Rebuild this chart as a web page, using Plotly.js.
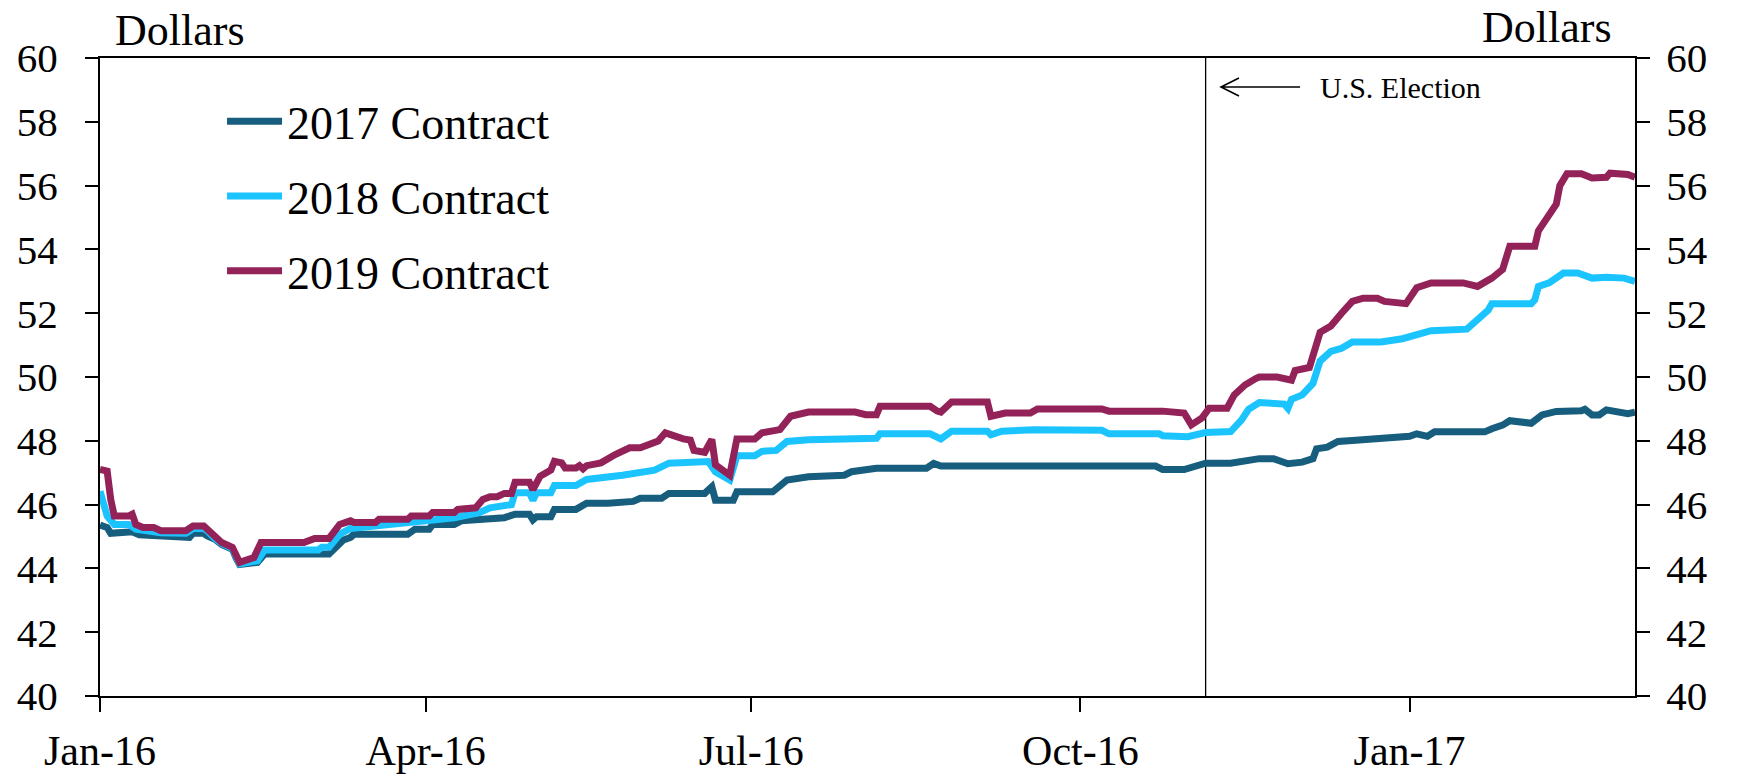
<!DOCTYPE html>
<html>
<head>
<meta charset="utf-8">
<script src="https://cdn.plot.ly/plotly-3.0.1.min.js"></script>
<style>
  html, body { margin: 0; padding: 0; background: #ffffff; }
  #chart { width: 1737px; height: 778px; }
</style>
</head>
<body>
<div id="chart"></div>
<script>
// ---------------- DATA ----------------
const seriesNames = ['2017 Contract', '2018 Contract', '2019 Contract'];

const dates2017 = [
  '2016-01-01','2016-01-03','2016-01-04','2016-01-08','2016-01-10','2016-01-12','2016-01-17','2016-01-18','2016-01-26','2016-01-27',
  '2016-01-30','2016-01-31','2016-02-02','2016-02-04','2016-02-07','2016-02-08','2016-02-09','2016-02-14','2016-02-16','2016-03-05',
  '2016-03-07','2016-03-09','2016-03-11','2016-03-12','2016-03-27','2016-03-29','2016-04-02','2016-04-03','2016-04-09','2016-04-11',
  '2016-04-17','2016-04-23','2016-04-26','2016-04-30','2016-05-01','2016-05-02','2016-05-06','2016-05-07','2016-05-13','2016-05-16',
  '2016-05-22','2016-05-29','2016-05-31','2016-06-06','2016-06-08','2016-06-18','2016-06-20','2016-06-21','2016-06-26','2016-06-27',
  '2016-07-07','2016-07-11','2016-07-17','2016-07-27','2016-07-29','2016-08-05','2016-08-19','2016-08-21','2016-08-23','2016-10-22',
  '2016-10-24','2016-10-30','2016-11-05','2016-11-12','2016-11-20','2016-11-24','2016-11-28','2016-12-02','2016-12-05','2016-12-06',
  '2016-12-09','2016-12-12','2016-12-16','2016-12-27','2017-01-01','2017-01-03','2017-01-06','2017-01-08','2017-01-22','2017-01-24',
  '2017-01-27','2017-01-29','2017-02-04','2017-02-07','2017-02-11','2017-02-18','2017-02-19','2017-02-21','2017-02-23','2017-02-25',
  '2017-03-01','2017-03-03','2017-03-05'
];
const values2017 = [
  45.36,45.28,45.10,45.10,45.15,45.05,45.02,44.97,44.97,45.10,
  45.10,45.02,44.92,44.75,44.60,44.33,44.12,44.19,44.45,44.45,
  44.66,44.89,44.97,45.07,45.07,45.23,45.23,45.38,45.38,45.49,
  45.54,45.59,45.70,45.70,45.52,45.62,45.62,45.85,45.85,46.04,
  46.04,46.10,46.20,46.20,46.35,46.35,46.56,46.14,46.14,46.40,
  46.40,46.77,46.87,46.92,47.03,47.14,47.14,47.29,47.21,47.21,
  47.10,47.10,47.30,47.30,47.44,47.44,47.28,47.33,47.44,47.75,
  47.80,47.98,48.01,48.07,48.14,48.22,48.14,48.28,48.28,48.38,
  48.49,48.63,48.55,48.81,48.92,48.94,48.99,48.81,48.81,48.97,
  48.92,48.85,48.90
];

const dates2018 = [
  '2016-01-01','2016-01-03','2016-01-05','2016-01-09','2016-01-11','2016-01-18','2016-01-25','2016-01-27','2016-01-30','2016-01-31',
  '2016-02-02','2016-02-04','2016-02-07','2016-02-08','2016-02-09','2016-02-14','2016-02-16','2016-03-02','2016-03-03','2016-03-05',
  '2016-03-08','2016-03-11','2016-03-18','2016-03-27','2016-04-03','2016-04-09','2016-04-16','2016-04-19','2016-04-25','2016-04-26',
  '2016-04-30','2016-05-01','2016-05-02','2016-05-06','2016-05-07','2016-05-13','2016-05-16','2016-05-20','2016-05-23','2016-05-26',
  '2016-06-04','2016-06-06','2016-06-08','2016-06-19','2016-06-21','2016-06-25','2016-06-27','2016-07-02','2016-07-04','2016-07-08',
  '2016-07-11','2016-07-17','2016-07-30','2016-08-01','2016-08-05','2016-08-06','2016-08-20','2016-08-23','2016-08-26','2016-09-05',
  '2016-09-06','2016-09-09','2016-09-18','2016-10-07','2016-10-09','2016-10-23','2016-10-24','2016-10-31','2016-11-05','2016-11-12',
  '2016-11-15','2016-11-17','2016-11-20','2016-11-27','2016-11-28','2016-11-29','2016-12-02','2016-12-05','2016-12-07','2016-12-10',
  '2016-12-13','2016-12-16','2016-12-24','2016-12-30','2017-01-03','2017-01-07','2017-01-17','2017-01-20','2017-01-23','2017-01-24',
  '2017-02-04','2017-02-05','2017-02-06','2017-02-09','2017-02-13','2017-02-17','2017-02-21','2017-02-25','2017-03-02','2017-03-05'
];
const values2018 = [
  46.42,45.64,45.38,45.38,45.23,45.12,45.10,45.25,45.25,45.18,
  44.95,44.78,44.62,44.35,44.14,44.24,44.58,44.58,44.66,44.66,
  45.07,45.25,45.33,45.44,45.54,45.59,45.75,45.90,46.00,46.37,
  46.37,46.14,46.37,46.37,46.60,46.60,46.79,46.82,46.87,46.92,
  47.08,47.20,47.30,47.35,47.03,46.77,47.53,47.53,47.67,47.70,
  47.98,48.03,48.03,48.08,48.08,48.22,48.22,48.06,48.30,48.30,
  48.19,48.30,48.35,48.33,48.22,48.22,48.16,48.13,48.26,48.29,
  48.65,48.99,49.20,49.15,49.02,49.30,49.44,49.80,50.50,50.80,
  50.90,51.10,51.10,51.20,51.30,51.45,51.50,51.80,52.10,52.30,
  52.30,52.42,52.84,52.95,53.26,53.26,53.10,53.13,53.10,53.00
];

const dates2019 = [
  '2016-01-01','2016-01-03','2016-01-04','2016-01-05','2016-01-09','2016-01-10','2016-01-11','2016-01-13','2016-01-16','2016-01-18',
  '2016-01-25','2016-01-27','2016-01-30','2016-01-31','2016-02-02','2016-02-04','2016-02-07','2016-02-08','2016-02-09','2016-02-13',
  '2016-02-15','2016-02-27','2016-03-01','2016-03-05','2016-03-08','2016-03-11','2016-03-12','2016-03-18','2016-03-19','2016-03-27',
  '2016-03-28','2016-04-02','2016-04-03','2016-04-09','2016-04-10','2016-04-15','2016-04-17','2016-04-19','2016-04-21','2016-04-23',
  '2016-04-25','2016-04-26','2016-04-30','2016-05-01','2016-05-03','2016-05-06','2016-05-07','2016-05-09','2016-05-10','2016-05-13',
  '2016-05-14','2016-05-15','2016-05-16','2016-05-20',
  '2016-05-22','2016-05-24','2016-05-28','2016-05-31','2016-06-05','2016-06-07','2016-06-12','2016-06-14','2016-06-15','2016-06-18',
  '2016-06-20','2016-06-21','2016-06-25','2016-06-27','2016-07-02','2016-07-04','2016-07-09','2016-07-12','2016-07-17','2016-07-30',
  '2016-08-02','2016-08-05','2016-08-06','2016-08-20','2016-08-22','2016-08-23','2016-08-26','2016-09-05','2016-09-06','2016-09-10',
  '2016-09-17','2016-09-19','2016-10-07','2016-10-09','2016-10-24','2016-10-30','2016-11-01','2016-11-04','2016-11-06','2016-11-11',
  '2016-11-13','2016-11-16','2016-11-19','2016-11-20','2016-11-25','2016-11-29','2016-11-30','2016-12-04','2016-12-07','2016-12-10',
  '2016-12-13','2016-12-16','2016-12-19','2016-12-23','2016-12-25','2016-12-31','2017-01-03','2017-01-07','2017-01-16','2017-01-20',
  '2017-01-24','2017-01-27','2017-01-29','2017-02-05','2017-02-06','2017-02-11','2017-02-12','2017-02-14','2017-02-18','2017-02-21',
  '2017-02-25','2017-02-26','2017-03-03','2017-03-05'
];
const values2019 = [
  47.10,47.05,46.16,45.64,45.64,45.70,45.38,45.28,45.28,45.18,
  45.18,45.33,45.33,45.23,44.97,44.81,44.66,44.39,44.19,44.34,
  44.81,44.81,44.94,44.94,45.38,45.49,45.44,45.44,45.54,45.54,
  45.64,45.64,45.75,45.75,45.85,45.90,46.16,46.25,46.25,46.35,
  46.35,46.70,46.70,46.47,46.89,47.08,47.36,47.31,47.15,47.15,
  47.22,47.12,47.22,47.31,
  47.41,47.57,47.78,47.78,47.99,48.25,48.06,48.02,47.70,47.64,
  48.04,47.25,46.92,48.06,48.06,48.25,48.35,48.77,48.90,48.90,
  48.82,48.82,49.08,49.08,48.93,48.90,49.22,49.22,48.77,48.87,
  48.87,49.00,49.00,48.93,48.93,48.87,48.50,48.72,49.02,49.02,
  49.44,49.75,49.95,50.00,50.00,49.90,50.20,50.30,51.40,51.60,
  52.00,52.37,52.47,52.47,52.37,52.30,52.80,52.95,52.95,52.84,
  53.10,53.37,54.10,54.10,54.58,55.42,56.00,56.37,56.37,56.24,
  56.26,56.39,56.35,56.26
];

const tickDates  = ['2016-01-01','2016-04-01','2016-07-01','2016-10-01','2017-01-01'];
const tickLabels = ['Jan-16','Apr-16','Jul-16','Oct-16','Jan-17'];
const electionDate = '2016-11-05';
const electionLabel = 'U.S. Election';
const unitLabel = 'Dollars';

// ---------------- STYLE ----------------
const FONT = 'Liberation Serif, "Times New Roman", serif';
const colors = ['#175E7E', '#1CC4FF', '#932259'];
const xs = [dates2017, dates2018, dates2019];
const ys = [values2017, values2018, values2019];

const traces = seriesNames.map((name, i) => ({
  type: 'scatter',
  mode: 'lines',
  name: name,
  x: xs[i],
  y: ys[i],
  legendgroup: 'g' + i,
  line: { color: colors[i], width: 7 },
  hoverinfo: 'skip'
}));
// invisible trace to show the right-hand axis
traces.push({
  type: 'scatter', mode: 'lines', x: [tickDates[0]], y: [50],
  yaxis: 'y2', showlegend: false, hoverinfo: 'skip',
  line: { color: 'rgba(0,0,0,0)' }
});

const yFont = { family: FONT, size: 41, color: '#000' };
const xFont = { family: FONT, size: 42, color: '#000' };

const layout = {
  width: 1737,
  height: 778,
  margin: { l: 100, r: 102, t: 58, b: 82, pad: 0 },
  paper_bgcolor: '#ffffff',
  plot_bgcolor: '#ffffff',
  font: { family: FONT, color: '#000' },
  showlegend: true,
  legend: {
    x: 0.0795, y: 0.958, xanchor: 'left', yanchor: 'top',
    bgcolor: 'rgba(0,0,0,0)',
    font: { family: FONT, size: 46, color: '#000' },
    traceorder: 'grouped',
    tracegroupgap: 12,
    itemwidth: 55
  },
  xaxis: {
    type: 'date',
    range: ['2016-01-01', '2017-03-05'],
    tickmode: 'array',
    tickvals: tickDates,
    ticktext: tickLabels,
    ticks: 'outside', ticklen: 14, tickwidth: 2, tickcolor: '#000',
    showline: true, linecolor: '#000', linewidth: 2, mirror: true,
    showgrid: false, zeroline: false,
    tickfont: xFont,
    ticklabelstandoff: 3
  },
  yaxis: {
    range: [40, 60], dtick: 2, tick0: 40,
    ticks: 'outside', ticklen: 13, tickwidth: 2, tickcolor: '#000',
    showline: true, linecolor: '#000', linewidth: 2,
    showgrid: false, zeroline: false,
    tickfont: yFont,
    ticklabelstandoff: 19
  },
  yaxis2: {
    overlaying: 'y', side: 'right', matches: 'y',
    range: [40, 60], dtick: 2, tick0: 40,
    ticks: 'outside', ticklen: 13, tickwidth: 2, tickcolor: '#000',
    showline: true, linecolor: '#000', linewidth: 2,
    showgrid: false, zeroline: false,
    tickfont: yFont,
    ticklabelstandoff: 8
  },
  shapes: [
    { type: 'line', xref: 'x', yref: 'paper', x0: electionDate, x1: electionDate, y0: 0, y1: 1,
      line: { color: '#000', width: 1.3 }, layer: 'below' },
    { type: 'path', xref: 'paper', yref: 'paper',
      path: 'M0.7303,0.9545 L0.7818,0.9545 M0.7420,0.9687 L0.7303,0.9545 L0.7420,0.9404',
      line: { color: '#000', width: 1.6 } }
  ],
  annotations: [
    { xref: 'paper', yref: 'paper', x: 0.0085, y: 1.043, xanchor: 'left', yanchor: 'middle',
      text: unitLabel, showarrow: false, font: { family: FONT, size: 44, color: '#000' } },
    { xref: 'paper', yref: 'paper', x: 0.9862, y: 1.048, xanchor: 'right', yanchor: 'middle',
      text: unitLabel, showarrow: false, font: { family: FONT, size: 44, color: '#000' } },
    { xref: 'paper', yref: 'paper', x: 0.7935, y: 0.9545, xanchor: 'left', yanchor: 'middle',
      text: electionLabel, showarrow: false, font: { family: FONT, size: 30, color: '#000' } }
  ]
};

Plotly.newPlot('chart', traces, layout, { staticPlot: true, displayModeBar: false });
</script>
</body>
</html>
